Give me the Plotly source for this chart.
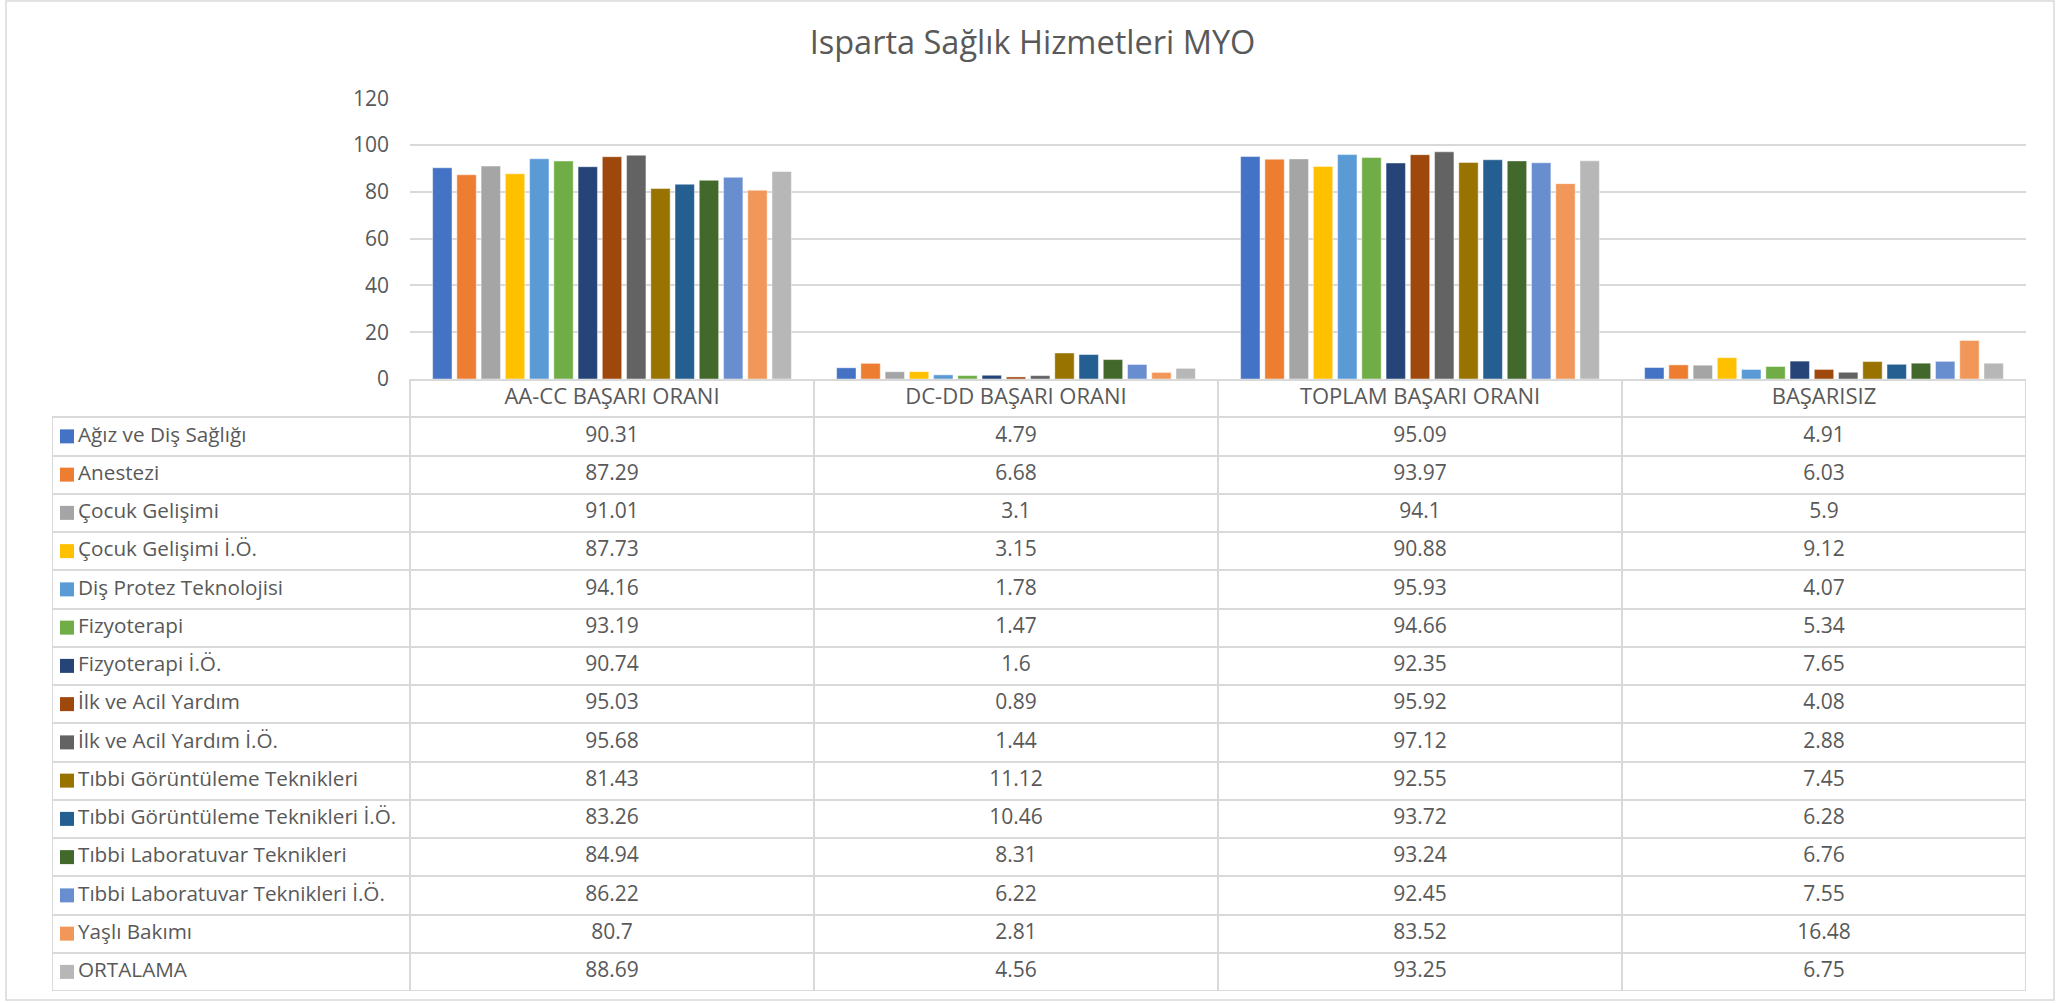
import plotly.graph_objects as go

categories = ['AA-CC BAŞARI ORANI', 'DC-DD BAŞARI ORANI', 'TOPLAM BAŞARI ORANI', 'BAŞARISIZ']
programs = ['Ağız ve Diş Sağlığı', 'Anestezi', 'Çocuk Gelişimi', 'Çocuk Gelişimi İ.Ö.',
            'Diş Protez Teknolojisi', 'Fizyoterapi', 'Fizyoterapi İ.Ö.', 'İlk ve Acil Yardım',
            'İlk ve Acil Yardım İ.Ö.', 'Tıbbi Görüntüleme Teknikleri', 'Tıbbi Görüntüleme Teknikleri İ.Ö.',
            'Tıbbi Laboratuvar Teknikleri', 'Tıbbi Laboratuvar Teknikleri İ.Ö.', 'Yaşlı Bakımı', 'ORTALAMA']
aa_cc = [90.31, 87.29, 91.01, 87.73, 94.16, 93.19, 90.74, 95.03, 95.68, 81.43, 83.26, 84.94, 86.22, 80.7, 88.69]
dc_dd = [4.79, 6.68, 3.1, 3.15, 1.78, 1.47, 1.6, 0.89, 1.44, 11.12, 10.46, 8.31, 6.22, 2.81, 4.56]
toplam = [95.09, 93.97, 94.1, 90.88, 95.93, 94.66, 92.35, 95.92, 97.12, 92.55, 93.72, 93.24, 92.45, 83.52, 93.25]
basarisiz = [4.91, 6.03, 5.9, 9.12, 4.07, 5.34, 7.65, 4.08, 2.88, 7.45, 6.28, 6.76, 7.55, 16.48, 6.75]
y_ticks = [0, 20, 40, 60, 80, 100, 120]

colors = ['#4472C4', '#ED7D31', '#A5A5A5', '#FFC000', '#5B9BD5', '#70AD47', '#264478', '#9E480E',
          '#636363', '#997300', '#255E91', '#43682B', '#698ED0', '#F1975A', '#B7B7B7']

W, H = 2065, 1003
FONT = 'Open Sans'
TXT = '#595959'
GRID = '#D9D9D9'

columns = [aa_cc, dc_dd, toplam, basarisiz]
n = len(programs)
legend_w = 358 / 404  # legend column width in category units

fig = go.Figure()

# grouped bars
for i in range(n):
    fig.add_trace(go.Bar(
        x=categories, y=[col[i] for col in columns], name=programs[i],
        marker=dict(color=colors[i], line=dict(width=1, color='rgba(255,255,255,0.45)')),
        xaxis='x', yaxis='y'))

# data table drawn on a second set of axes
rows_y = [r + 1.5 for r in range(n)]
for c, col in enumerate(columns):
    fig.add_trace(go.Scatter(
        x=[c + 0.5], y=[0.5], mode='text', text=[categories[c]],
        textfont=dict(family=FONT, size=22, color=TXT),
        xaxis='x2', yaxis='y2', hoverinfo='skip'))
    fig.add_trace(go.Scatter(
        x=[c + 0.5] * n, y=rows_y, mode='text', text=[str(v) for v in col],
        textfont=dict(family=FONT, size=21, color=TXT),
        xaxis='x2', yaxis='y2', hoverinfo='skip'))

# legend keys and program names in the first column
fig.add_trace(go.Scatter(
    x=[-legend_w + 15 / 404] * n, y=rows_y, mode='markers',
    marker=dict(symbol='square', size=14, color=colors, line=dict(width=0)),
    xaxis='x2', yaxis='y2', hoverinfo='skip'))
fig.add_trace(go.Scatter(
    x=[-legend_w + 26 / 404] * n, y=rows_y, mode='text', text=programs,
    textposition='middle right',
    textfont=dict(family=FONT, size=20.7, color=TXT),
    xaxis='x2', yaxis='y2', hoverinfo='skip'))

# table borders
fig.add_shape(type='line', xref='x2', yref='y2', x0=-legend_w, x1=-legend_w, y0=1, y1=n + 1,
              line=dict(color=GRID, width=2))
fig.add_shape(type='line', xref='x2', yref='y2', x0=-legend_w, x1=4, y0=n + 1, y1=n + 1,
              line=dict(color=GRID, width=2))
fig.add_shape(type='line', xref='x2', yref='y2', x0=4, x1=4, y0=0, y1=n + 1,
              line=dict(color=GRID, width=2))

# outer chart border
fig.add_shape(type='rect', xref='paper', yref='paper', x0=6 / W, x1=2054 / W, y0=1 - 1000 / H, y1=1 - 1 / H,
              line=dict(color=GRID, width=1.5))

fig.update_layout(
    width=W, height=H,
    margin=dict(l=0, r=0, t=0, b=0, pad=0, autoexpand=False),
    paper_bgcolor='white', plot_bgcolor='white',
    showlegend=False,
    barmode='group', bargap=0.1, bargroupgap=0.2,
    title=dict(text='Isparta Sağlık Hizmetleri MYO', x=0.5, xanchor='center', y=1 - 43 / H, yanchor='middle',
               font=dict(family=FONT, size=32.5, color=TXT)),
    xaxis=dict(domain=[410 / W, 2026 / W], showticklabels=False, showgrid=False, zeroline=False,
               showline=True, linecolor=GRID, linewidth=2, anchor='y', automargin=False),
    yaxis=dict(domain=[1 - 379 / H, 1 - 98.3 / H], range=[0, 120], tickvals=y_ticks,
               showgrid=True, gridcolor=GRID, gridwidth=1.5, zeroline=False,
               tickfont=dict(family=FONT, size=21, color=TXT), ticklabelstandoff=20, anchor='x',
               automargin=False),
    xaxis2=dict(domain=[52 / W, 2026 / W], range=[-legend_w, 4], tickvals=[0, 1, 2, 3, 4],
                showticklabels=False, showgrid=True, gridcolor=GRID, gridwidth=2, zeroline=False,
                anchor='y2', automargin=False),
    yaxis2=dict(domain=[1 - 991 / H, 1 - 379 / H], range=[n + 1, 0], tickvals=list(range(1, n + 1)),
                showticklabels=False, showgrid=True, gridcolor=GRID, gridwidth=2, zeroline=False,
                anchor='x2', automargin=False),
)

# remove the default page margin so the figure sits at the window origin
fig.write_html("out.html", config={'displayModeBar': False},
               post_script="document.body.style.margin = '0';")
